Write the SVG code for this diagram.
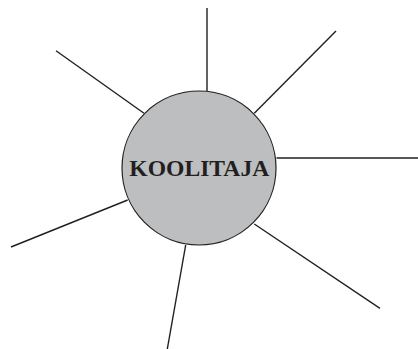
<svg xmlns="http://www.w3.org/2000/svg" width="418" height="349" viewBox="0 0 418 349">
<style>
.ray{stroke:#231f20;stroke-width:1.4;fill:none}
.hub{fill:#bcbec0;stroke:#231f20;stroke-width:1.2}
.lbl{font-family:"Liberation Serif","Times New Roman",serif;font-weight:bold;font-size:24px;fill:#231f20}
</style>
<rect width="418" height="349" fill="#ffffff"/>
<g id="connectors">
<line class="ray" x1="207" y1="8" x2="207" y2="91"/>
<line class="ray" x1="336" y1="31" x2="254.3" y2="113.3"/>
<line class="ray" x1="276.5" y1="158" x2="418" y2="158"/>
<line class="ray" x1="254.3" y1="224" x2="380" y2="308.3"/>
<line class="ray" x1="185.7" y1="245" x2="167.3" y2="349"/>
<line class="ray" x1="127.7" y1="200" x2="11" y2="247"/>
<line class="ray" x1="56" y1="50.7" x2="144" y2="113.3"/>
</g>
<g id="node-koolitaja">
<circle class="hub" cx="199" cy="168" r="77"/>
<text class="lbl" x="199.3" y="175.7" text-anchor="middle" textLength="140" lengthAdjust="spacingAndGlyphs">KOOLITAJA</text>
</g>
</svg>
